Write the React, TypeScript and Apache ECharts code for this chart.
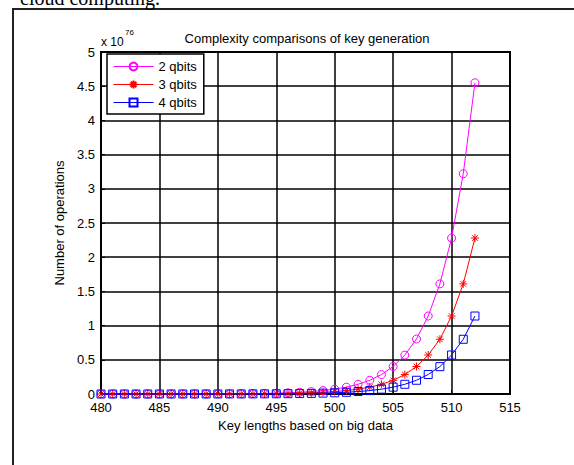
import React, { useEffect, useRef } from "react";
import * as echarts from "echarts";

const keyLengths = [480, 481, 482, 483, 484, 485, 486, 487, 488, 489, 490, 491, 492, 493, 494, 495, 496, 497, 498, 499, 500, 501, 502, 503, 504, 505, 506, 507, 508, 509, 510, 511, 512];

const qbits2 = [0.0001, 0.0001, 0.0001, 0.0002, 0.0003, 0.0004, 0.0006, 0.0008, 0.0011, 0.0016, 0.0022, 0.0031, 0.0044, 0.0063, 0.0089, 0.0126, 0.0178, 0.0251, 0.0355, 0.0503, 0.071, 0.1, 0.142, 0.201, 0.284, 0.402, 0.569, 0.804, 1.14, 1.61, 2.28, 3.22, 4.55];
const qbits3 = [0.0001, 0.0001, 0.0001, 0.0001, 0.0001, 0.0002, 0.0003, 0.0004, 0.0006, 0.0008, 0.0011, 0.0016, 0.0022, 0.0031, 0.0044, 0.0063, 0.0089, 0.0126, 0.0178, 0.0251, 0.0355, 0.05, 0.071, 0.1, 0.142, 0.201, 0.284, 0.402, 0.57, 0.80, 1.14, 1.61, 2.28];
const qbits4 = [0, 0, 0, 0, 0.0001, 0.0001, 0.0001, 0.0002, 0.0003, 0.0004, 0.0006, 0.0008, 0.0011, 0.0016, 0.0022, 0.0031, 0.0044, 0.0063, 0.0089, 0.0126, 0.0178, 0.025, 0.036, 0.05, 0.071, 0.1, 0.142, 0.201, 0.285, 0.40, 0.57, 0.80, 1.14];

const seriesNames = ["2 qbits", "3 qbits", "4 qbits"];
const titleText = "Complexity comparisons of key generation";
const xName = "Key lengths based on big data";
const yName = "Number of operations";

const FONT = "'Liberation Sans', Arial, sans-serif";
const STAR = "path://M0,5L10,5M5,0L5,10M1.5,1.5L8.5,8.5M1.5,8.5L8.5,1.5";

export default function App() {
  const ref = useRef<HTMLDivElement>(null);
  useEffect(() => {
    if (!ref.current) return;
    const chart = echarts.init(ref.current, null, { renderer: "svg" });
    const pair = (vals: number[]) => keyLengths.map((k, i) => [k, vals[i]]);
    chart.setOption({
      animation: false,
      backgroundColor: "#fff",
      textStyle: { fontFamily: FONT },
      grid: {
        left: 101, top: 52, right: 64, bottom: 71,
        show: true, borderColor: "#000", borderWidth: 2, backgroundColor: "#fff",
      },
      legend: {
        orient: "vertical",
        left: 107, top: 54,
        data: seriesNames,
        itemWidth: 40, itemHeight: 10, itemGap: 5,
        padding: [6, 7, 5, 6],
        borderColor: "#000", borderWidth: 1.5,
        backgroundColor: "#fff",
        lineStyle: { width: 1 },
        textStyle: { fontFamily: FONT, fontSize: 13, color: "#000" },
      },
      xAxis: {
        type: "value", min: 480, max: 515, interval: 5,
        axisLine: { show: true, onZero: false, lineStyle: { color: "#000", width: 2 } },
        axisTick: { show: true, inside: true, length: 4, lineStyle: { color: "#000" } },
        axisLabel: { color: "#000", fontSize: 13, lineHeight: 13, fontFamily: FONT, margin: 7 },
        splitLine: { show: true, lineStyle: { color: "#000", width: 1.5 } },
        name: xName, nameLocation: "middle", nameGap: 23,
        nameTextStyle: { color: "#000", fontSize: 13, fontFamily: FONT },
      },
      yAxis: {
        type: "value", min: 0, max: 5, interval: 0.5,
        axisLine: { show: true, lineStyle: { color: "#000", width: 2 } },
        axisTick: { show: true, inside: true, length: 4, lineStyle: { color: "#000" } },
        axisLabel: { color: "#000", fontSize: 13, lineHeight: 13, fontFamily: FONT, margin: 6 },
        splitLine: { show: true, lineStyle: { color: "#000", width: 1.5 } },
        name: yName, nameLocation: "middle", nameGap: 30,
        nameTextStyle: { color: "#000", fontSize: 13, fontFamily: FONT },
      },
      graphic: [
        {
          type: "rect", z: 100, silent: true,
          shape: { x: 13, y: 9, width: 700, height: 600 },
          style: { fill: "none", stroke: "#222", lineWidth: 2 },
        },
        {
          type: "text", z: 100, x: 160, y: 8,
          style: { text: "cloud computing.", font: "20px 'Liberation Serif', 'Times New Roman', serif", fill: "#000", align: "right", verticalAlign: "bottom" },
        },
        {
          type: "text", z: 100, x: 101, y: 42,
          style: { text: "x 10", font: `12px ${FONT}`, fill: "#000", align: "left", verticalAlign: "middle" },
        },
        {
          type: "text", z: 100, x: 125, y: 32,
          style: { text: "76", font: `8px ${FONT}`, fill: "#000", align: "left", verticalAlign: "middle" },
        },
        {
          type: "text", z: 100, x: 307, y: 38,
          style: { text: titleText, font: `13px ${FONT}`, fill: "#000", align: "center", verticalAlign: "middle" },
        },
      ],
      series: [
        {
          name: seriesNames[0], type: "line", data: pair(qbits2),
          symbol: "circle", symbolSize: 8,
          lineStyle: { color: "#ff00ff", width: 1 },
          itemStyle: { color: "rgba(255,255,255,0)", borderColor: "#ff00ff", borderWidth: 1 },
          z: 3,
        },
        {
          name: seriesNames[1], type: "line", data: pair(qbits3),
          symbol: STAR, symbolSize: 8,
          lineStyle: { color: "#ff0000", width: 1 },
          itemStyle: { color: "#ff0000", borderColor: "#ff0000", borderWidth: 1 },
          z: 4,
        },
        {
          name: seriesNames[2], type: "line", data: pair(qbits4),
          symbol: "rect", symbolSize: 8,
          lineStyle: { color: "#0000ff", width: 1 },
          itemStyle: { color: "rgba(255,255,255,0)", borderColor: "#0000ff", borderWidth: 1 },
          z: 5,
        },
      ],
    });
    return () => chart.dispose();
  }, []);
  return <div ref={ref} style={{ position: "absolute", left: 0, top: 0, width: 574, height: 465 }} />;
}
